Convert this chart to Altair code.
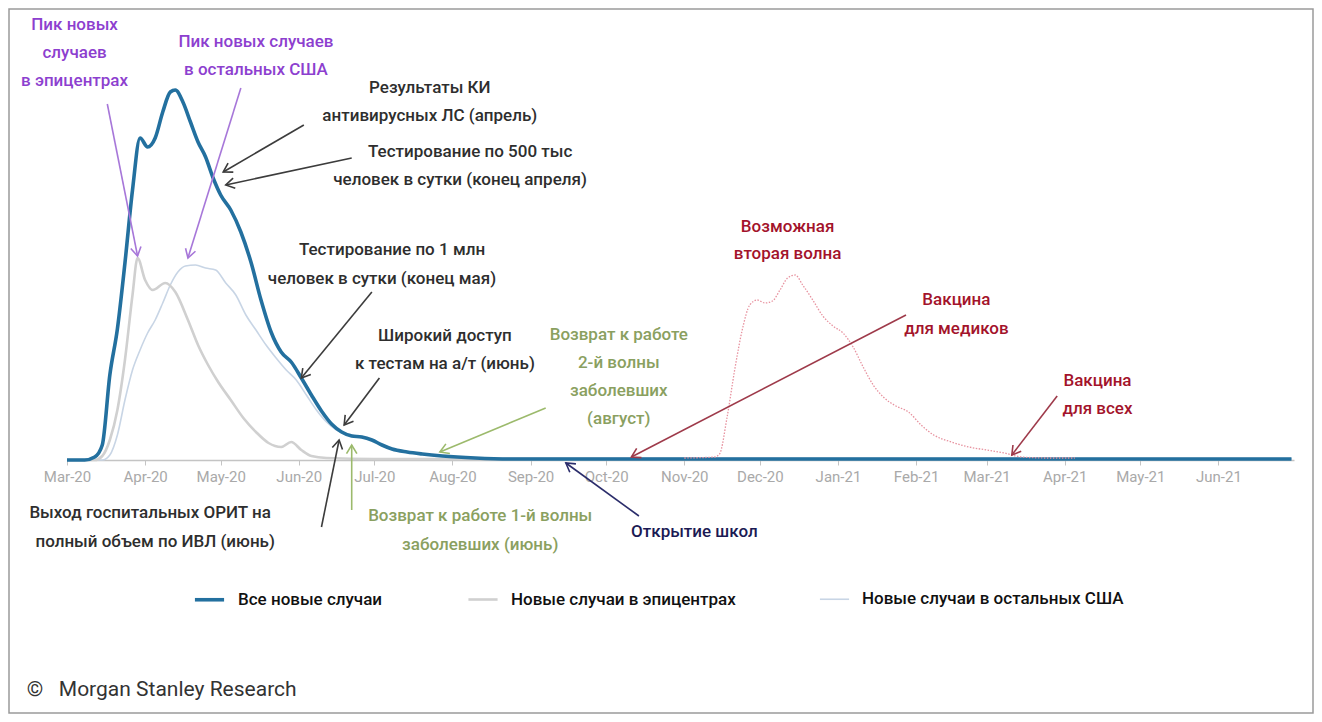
import math
import altair as alt
import pandas as pd

# ---------------- data ----------------
SERIES = ["Все новые случаи", "Новые случаи в эпицентрах", "Новые случаи в остальных США"]
COLORS = ["#23709f", "#d0d0d0", "#c8d5e5"]
WIDTHS = [3.6, 1.6, 1.6]

all_dates = ["2020-03-01", "2020-03-08", "2020-03-12", "2020-03-15", "2020-03-18", "2020-03-21",
             "2020-03-24", "2020-03-27", "2020-03-30", "2020-04-02", "2020-04-05", "2020-04-08",
             "2020-04-11", "2020-04-13", "2020-04-16", "2020-04-19", "2020-04-22", "2020-04-25",
             "2020-04-28", "2020-05-01", "2020-05-05", "2020-05-09", "2020-05-13", "2020-05-17",
             "2020-05-21", "2020-05-25", "2020-05-29", "2020-06-02", "2020-06-06", "2020-06-10",
             "2020-06-14", "2020-06-18", "2020-06-22", "2020-06-26", "2020-06-30", "2020-07-04",
             "2020-07-08", "2020-07-14", "2020-07-20", "2020-07-28", "2020-08-10", "2020-08-25",
             "2020-09-15", "2021-06-30"]
all_values = [0, 0, 3, 15, 85, 131, 197, 270, 322, 313, 322, 348, 368, 370, 358, 338, 318, 303,
              282, 265, 250, 228, 198, 160, 128, 108, 98, 82, 65, 49, 36, 28, 24, 23, 20, 15, 11,
              8, 6, 4, 2, 1, 1, 1]

epi_dates = ["2020-03-01", "2020-03-12", "2020-03-15", "2020-03-18", "2020-03-21", "2020-03-24",
             "2020-03-27", "2020-03-29", "2020-04-01", "2020-04-04", "2020-04-09", "2020-04-13",
             "2020-04-18", "2020-04-22", "2020-04-26", "2020-04-30", "2020-05-05", "2020-05-10",
             "2020-05-15", "2020-05-20", "2020-05-25", "2020-05-29", "2020-06-02", "2020-06-06",
             "2020-06-12", "2020-07-01", "2021-06-30"]
epi_values = [0, 0, 4, 20, 50, 100, 165, 202, 180, 170, 177, 168, 140, 115, 95, 78, 60, 42, 28,
              17, 13, 18, 10, 4, 2, 1, 1]

rest_dates = ["2020-03-01", "2020-03-15", "2020-03-18", "2020-03-21", "2020-03-24", "2020-03-27",
              "2020-03-30", "2020-04-02", "2020-04-05", "2020-04-08", "2020-04-11", "2020-04-14",
              "2020-04-17", "2020-04-21", "2020-04-25", "2020-04-29", "2020-05-03", "2020-05-07",
              "2020-05-11", "2020-05-15", "2020-05-19", "2020-05-23", "2020-05-27", "2020-05-31",
              "2020-06-04", "2020-06-08", "2020-06-12", "2020-06-16", "2020-06-22", "2020-06-30",
              "2020-07-08", "2020-07-20", "2020-08-10", "2021-06-30"]
rest_values = [0, 0, 5, 25, 60, 90, 110, 127, 140, 157, 175, 188, 194, 195, 192, 190, 177, 165,
               145, 130, 115, 102, 90, 80, 65, 50, 38, 30, 25, 20, 11, 6, 2, 1]

wave_dates = ["2020-11-01", "2020-11-13", "2020-11-15", "2020-11-18", "2020-11-21", "2020-11-24",
              "2020-11-27", "2020-11-30", "2020-12-03", "2020-12-06", "2020-12-09", "2020-12-12",
              "2020-12-15", "2020-12-18", "2020-12-22", "2020-12-26", "2020-12-30", "2021-01-03",
              "2021-01-07", "2021-01-11", "2021-01-15", "2021-01-19", "2021-01-24", "2021-01-29",
              "2021-02-03", "2021-02-08", "2021-02-15", "2021-02-22", "2021-03-01", "2021-03-08",
              "2021-03-15", "2021-03-25", "2021-04-05"]
wave_values = [2, 3, 6, 43, 90, 130, 155, 160, 157, 159, 170, 182, 185, 175, 160, 144, 134, 127,
               113, 93, 75, 63, 54, 48, 35, 25, 18, 13, 10, 7, 3, 2, 2]

TICK_MONTHS = [(2020, m) for m in range(3, 13)] + [(2021, m) for m in range(1, 7)]

# annotation texts: (colour key, date, value, text)
NOTES = [
    ("purple", "2020-03-04", 430, "Пик новых"),
    ("purple", "2020-03-04", 402, "случаев"),
    ("purple", "2020-03-04", 374, "в эпицентрах"),
    ("purple", "2020-05-15", 413, "Пик новых случаев"),
    ("purple", "2020-05-15", 385, "в остальных США"),
    ("gray", "2020-07-23", 367, "Результаты КИ"),
    ("gray", "2020-07-23", 339, "антивирусных ЛС (апрель)"),
    ("gray", "2020-08-08", 303, "Тестирование по 500 тыс"),
    ("gray", "2020-08-04", 275, "человек в сутки (конец апреля)"),
    ("gray", "2020-07-08", 205, "Тестирование по 1 млн"),
    ("gray", "2020-07-04", 176, "человек в сутки (конец мая)"),
    ("gray", "2020-07-29", 119, "Широкий доступ"),
    ("gray", "2020-07-29", 91, "к тестам на а/т (июнь)"),
    ("green", "2020-10-06", 120, "Возврат к работе"),
    ("green", "2020-10-06", 92, "2-й волны"),
    ("green", "2020-10-06", 64, "заболевших"),
    ("green", "2020-10-06", 36, "(август)"),
    ("gray", "2020-04-03", -58, "Выход госпитальных ОРИТ на"),
    ("gray", "2020-04-05", -87, "полный объем по ИВЛ (июнь)"),
    ("green", "2020-08-12", -61, "Возврат к работе 1-й волны"),
    ("green", "2020-08-12", -90, "заболевших (июнь)"),
    ("navy", "2020-11-05", -77, "Открытие школ"),
    ("red", "2020-12-12", 228, "Возможная"),
    ("red", "2020-12-12", 201, "вторая волна"),
    ("red", "2021-02-17", 155, "Вакцина"),
    ("red", "2021-02-17", 126, "для медиков"),
    ("red", "2021-04-14", 74, "Вакцина"),
    ("red", "2021-04-14", 46, "для всех"),
]

# arrows: (colour key, from date, from value, to date, to value)
ARROWS = [
    ("purple", "2020-03-17", 356, "2020-03-29", 204),
    ("purple", "2020-05-09", 372, "2020-04-18", 202),
    ("gray", "2020-06-03", 335, "2020-05-02", 288),
    ("gray", "2020-06-22", 302, "2020-05-03", 275),
    ("gray", "2020-06-30", 168, "2020-06-02", 82),
    ("gray", "2020-07-03", 82, "2020-06-19", 35),
    ("green", "2020-09-07", 52, "2020-07-27", 8),
    ("gray", "2020-06-10", -67, "2020-06-17", 20),
    ("green", "2020-06-22", -50, "2020-06-22", 15),
    ("navy", "2020-10-14", -56, "2020-09-15", -3),
    ("red", "2021-01-28", 145, "2020-10-11", 3),
    ("red", "2021-03-29", 64, "2021-03-11", 5),
]

FOOTER = ("2020-02-14", -236, "©\u00a0\u00a0\u00a0Morgan Stanley Research")

TEXT_COLORS = {"purple": "#8d3fcf", "gray": "#2e2e2e", "green": "#8aa060",
               "navy": "#1b1a54", "red": "#a3132b"}
ARROW_COLORS = {"purple": "#a777d9", "gray": "#3c3c3c", "green": "#9cba6c",
                "navy": "#2b2d6b", "red": "#9e3a4a"}

# ---------------- layout ----------------
W, H = 1227, 400
Y_MAX = 400
X_START = pd.Timestamp("2020-03-01")
X_END = pd.Timestamp("2021-07-01")
PX_PER_DAY = W / (X_END - X_START).days
PX_PER_VAL = H / Y_MAX
FONT = "Roboto"

xscale = alt.Scale(domain=[alt.DateTime(year=2020, month=3, date=1),
                           alt.DateTime(year=2021, month=7, date=1)], nice=False)
yscale = alt.Scale(domain=[0, Y_MAX], nice=False, zero=False)

tick_values = [alt.DateTime(year=y, month=m, date=1) for y, m in TICK_MONTHS]
x_axis = alt.Axis(values=tick_values, format="%b-%y", title=None, grid=False,
                  labelFont=FONT, labelFontSize=15, labelColor="#a9a9a9",
                  domainColor="#c4c4c4", domainWidth=1.5, tickColor="#c4c4c4",
                  tickSize=5, labelPadding=4, labelFlush=False)

def xenc(field):
    return alt.X(field, type="temporal", scale=xscale, axis=x_axis)

def yenc(field):
    return alt.Y(field, type="quantitative", scale=yscale, axis=None)

# ---------------- tables ----------------
def series_df(name, dates, values):
    return pd.DataFrame({"date": pd.to_datetime(dates), "value": values, "series": name})

df_all = series_df(SERIES[0], all_dates, all_values)
df_light = pd.concat([series_df(SERIES[2], rest_dates, rest_values),
                      series_df(SERIES[1], epi_dates, epi_values)], ignore_index=True)
df_wave = pd.DataFrame({"date": pd.to_datetime(wave_dates), "value": wave_values})

df_notes = pd.DataFrame(NOTES, columns=["key", "date", "value", "text"])
df_notes["date"] = pd.to_datetime(df_notes["date"])
df_notes["color"] = df_notes["key"].map(TEXT_COLORS)

df_arrows = pd.DataFrame(ARROWS, columns=["key", "date", "value", "date2", "value2"])
df_arrows["date"] = pd.to_datetime(df_arrows["date"])
df_arrows["date2"] = pd.to_datetime(df_arrows["date2"])
df_arrows["color"] = df_arrows["key"].map(ARROW_COLORS)
def _angle(r):
    dx = (r["date2"] - r["date"]).days * PX_PER_DAY
    dy_up = (r["value2"] - r["value"]) * PX_PER_VAL
    return math.degrees(math.atan2(dx, dy_up)) % 360
df_arrows["angle"] = df_arrows.apply(_angle, axis=1)

df_footer = pd.DataFrame({"date": pd.to_datetime([FOOTER[0]]), "value": [FOOTER[1]],
                          "text": [FOOTER[2]]})

color_scale = alt.Scale(domain=SERIES, range=COLORS)
width_scale = alt.Scale(domain=SERIES, range=WIDTHS)
legend_kw = dict(orient="none", legendX=126, legendY=523, direction="horizontal",
                 title=None, symbolType="stroke", symbolSize=850, labelFont=FONT,
                 labelFontSize=17, labelFontWeight=500, labelColor="#111111", labelOffset=12,
                 columnPadding=80, labelLimit=400)

light = alt.Chart(df_light).mark_line(interpolate="monotone").encode(
    x=xenc("date"),
    y=yenc("value"),
    color=alt.Color("series:N", scale=color_scale, legend=alt.Legend(**legend_kw)),
    strokeWidth=alt.StrokeWidth("series:N", scale=width_scale, legend=alt.Legend(**legend_kw)),
    detail="series:N",
)

main = alt.Chart(df_all).mark_line(interpolate="monotone").encode(
    x=xenc("date"),
    y=yenc("value"),
    color=alt.Color("series:N", scale=color_scale, legend=alt.Legend(**legend_kw)),
    strokeWidth=alt.StrokeWidth("series:N", scale=width_scale, legend=alt.Legend(**legend_kw)),
)

wave = alt.Chart(df_wave).mark_line(interpolate="monotone", color="#e7929f",
                                    strokeWidth=1.3, strokeDash=[1.5, 1.5]).encode(
    x=xenc("date"), y=yenc("value"))

arrow_lines = alt.Chart(df_arrows).mark_rule(strokeWidth=1.6).encode(
    x=xenc("date"), x2="date2", y=yenc("value"), y2="value2",
    color=alt.Color("color:N", scale=None))

arrow_heads = alt.Chart(df_arrows).mark_point(
    shape="M-0.6,1L0,0L0.6,1", filled=False, size=300, strokeWidth=1.6, opacity=1).encode(
    x=xenc("date2"), y=yenc("value2"),
    angle=alt.Angle("angle:Q", scale=None),
    color=alt.Color("color:N", scale=None))

notes = alt.Chart(df_notes).mark_text(font=FONT, fontSize=17, fontWeight=500, align="center",
                                      baseline="alphabetic").encode(
    x=xenc("date"), y=yenc("value"), text="text:N",
    color=alt.Color("color:N", scale=None))

footer = alt.Chart(df_footer).mark_text(font=FONT, fontSize=21, align="left",
                                        baseline="alphabetic", color="#333333").encode(
    x=xenc("date"), y=yenc("value"), text="text:N")

frame = alt.Chart(pd.DataFrame({"k": [0]})).mark_rect(
    filled=False, stroke="#9a9a9a", strokeWidth=1.5).encode(
    x=alt.value(-58), x2=alt.value(1246), y=alt.value(-51), y2=alt.value(653))

chart = alt.layer(light, main, wave, arrow_lines, arrow_heads, notes, footer, frame).properties(
    width=W, height=H,
    padding={"left": 59, "top": 52, "right": 20, "bottom": 254},
    autosize=alt.AutoSizeParams(type="none"),
    background="white",
).configure_view(stroke=None)

chart.save("out.html", embed_options={"renderer": "svg", "actions": False})
